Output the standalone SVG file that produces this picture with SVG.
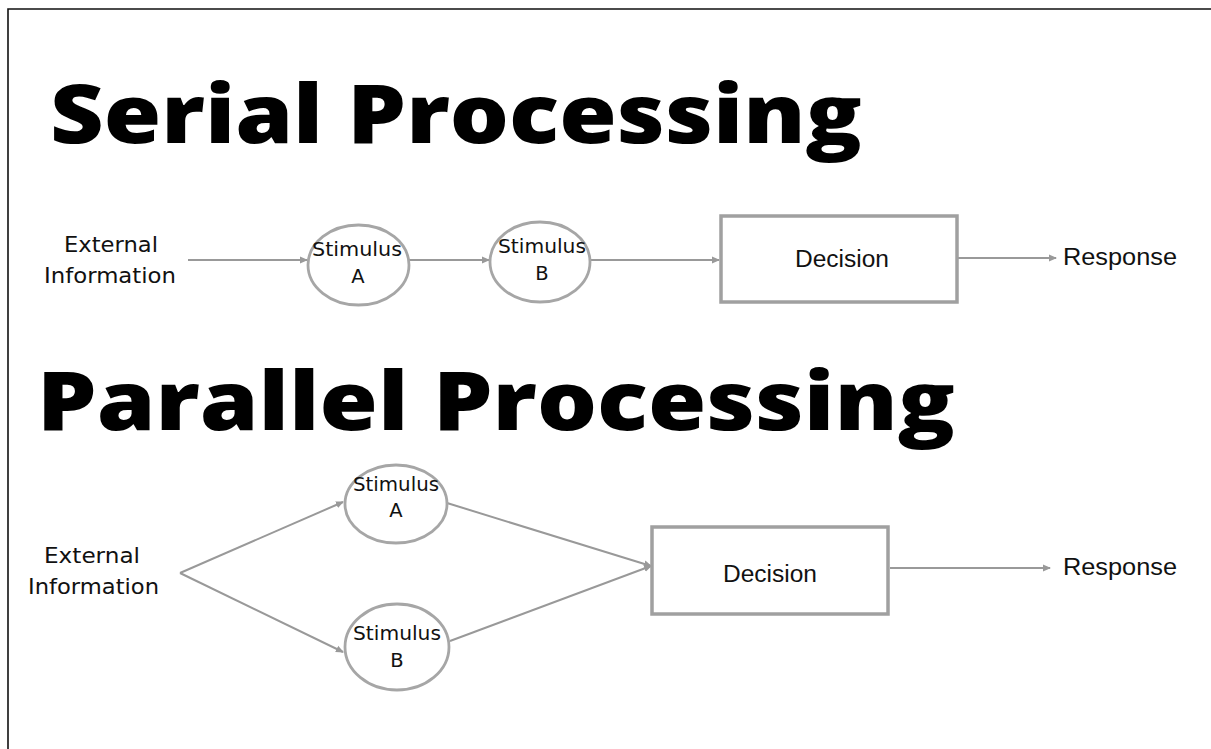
<svg xmlns="http://www.w3.org/2000/svg" width="1211" height="749" viewBox="0 0 1211 749">
<defs>
<style>
.title{font-family:"Open Sans",sans-serif;font-weight:800;font-size:82px;fill:#000}
.ext{font-family:"DejaVu Sans",sans-serif;font-size:22px;fill:#111}
.sm{font-family:"DejaVu Sans",sans-serif;font-size:19.5px;fill:#111}
.lbl{font-family:"Liberation Sans",Arial,sans-serif;font-size:23px;fill:#111}
.conn{stroke:#999;stroke-width:2;fill:none}
.circ{stroke:#a6a6a6;stroke-width:2.8;fill:#fff}
.box{stroke:#a0a0a0;stroke-width:3.5;fill:#fff}
</style>
<marker id="ah" markerWidth="8" markerHeight="8" refX="7" refY="4" orient="auto" markerUnits="userSpaceOnUse">
<path d="M0,0.5 L8,4 L0,7.5 Z" fill="#999"/>
</marker>
</defs>
<rect width="1211" height="749" fill="#fff"/>
<path d="M8,749 L8,9 L1211,9" fill="none" stroke="#111" stroke-width="1.6"/>

<text class="title" x="50" y="143" textLength="812" lengthAdjust="spacingAndGlyphs">Serial Processing</text>
<text class="title" x="37" y="430" textLength="918" lengthAdjust="spacingAndGlyphs">Parallel Processing</text>

<g id="connectors">
<line class="conn" x1="188" y1="260" x2="307" y2="260" marker-end="url(#ah)"/>
<line class="conn" x1="409" y1="260" x2="489" y2="260" marker-end="url(#ah)"/>
<line class="conn" x1="591" y1="260" x2="719" y2="260" marker-end="url(#ah)"/>
<line class="conn" x1="958" y1="258" x2="1056" y2="258" marker-end="url(#ah)"/>
<line class="conn" x1="180" y1="573" x2="343" y2="502" marker-end="url(#ah)"/>
<line class="conn" x1="180" y1="573" x2="343" y2="652" marker-end="url(#ah)"/>
<line class="conn" x1="447" y1="503" x2="651" y2="566" marker-end="url(#ah)"/>
<line class="conn" x1="450" y1="641" x2="651" y2="566" marker-end="url(#ah)"/>
<line class="conn" x1="890" y1="568" x2="1050" y2="568" marker-end="url(#ah)"/>
</g>

<g id="s-ext">
<text class="ext" x="64" y="252" textLength="94" lengthAdjust="spacingAndGlyphs">External</text>
<text class="ext" x="44" y="283" textLength="132" lengthAdjust="spacingAndGlyphs">Information</text>
</g>
<g id="s-stimA">
<ellipse class="circ" cx="358.5" cy="265" rx="50.5" ry="40"/>
<text class="sm" x="312" y="256" textLength="90" lengthAdjust="spacingAndGlyphs">Stimulus</text>
<text class="sm" x="358" y="283" text-anchor="middle">A</text>
</g>
<g id="s-stimB">
<ellipse class="circ" cx="540" cy="262" rx="50" ry="40"/>
<text class="sm" x="498" y="253" textLength="88" lengthAdjust="spacingAndGlyphs">Stimulus</text>
<text class="sm" x="542" y="280" text-anchor="middle">B</text>
</g>
<g id="s-decision">
<rect class="box" x="721" y="216" width="236" height="86"/>
<text class="lbl" x="795" y="267" textLength="94" lengthAdjust="spacingAndGlyphs">Decision</text>
</g>
<g id="s-response">
<text class="lbl" x="1063" y="265" textLength="114" lengthAdjust="spacingAndGlyphs">Response</text>
</g>

<g id="p-ext">
<text class="ext" x="44" y="563" textLength="96" lengthAdjust="spacingAndGlyphs">External</text>
<text class="ext" x="28" y="594" textLength="131" lengthAdjust="spacingAndGlyphs">Information</text>
</g>
<g id="p-stimA">
<ellipse class="circ" cx="396" cy="504" rx="51" ry="39"/>
<text class="sm" x="353" y="491" textLength="86" lengthAdjust="spacingAndGlyphs">Stimulus</text>
<text class="sm" x="396" y="517" text-anchor="middle">A</text>
</g>
<g id="p-stimB">
<ellipse class="circ" cx="397" cy="647" rx="52" ry="43"/>
<text class="sm" x="353" y="640" textLength="88" lengthAdjust="spacingAndGlyphs">Stimulus</text>
<text class="sm" x="397" y="667" text-anchor="middle">B</text>
</g>
<g id="p-decision">
<rect class="box" x="652" y="527" width="236" height="87"/>
<text class="lbl" x="723" y="582" textLength="94" lengthAdjust="spacingAndGlyphs">Decision</text>
</g>
<g id="p-response">
<text class="lbl" x="1063" y="575" textLength="114" lengthAdjust="spacingAndGlyphs">Response</text>
</g>
</svg>
